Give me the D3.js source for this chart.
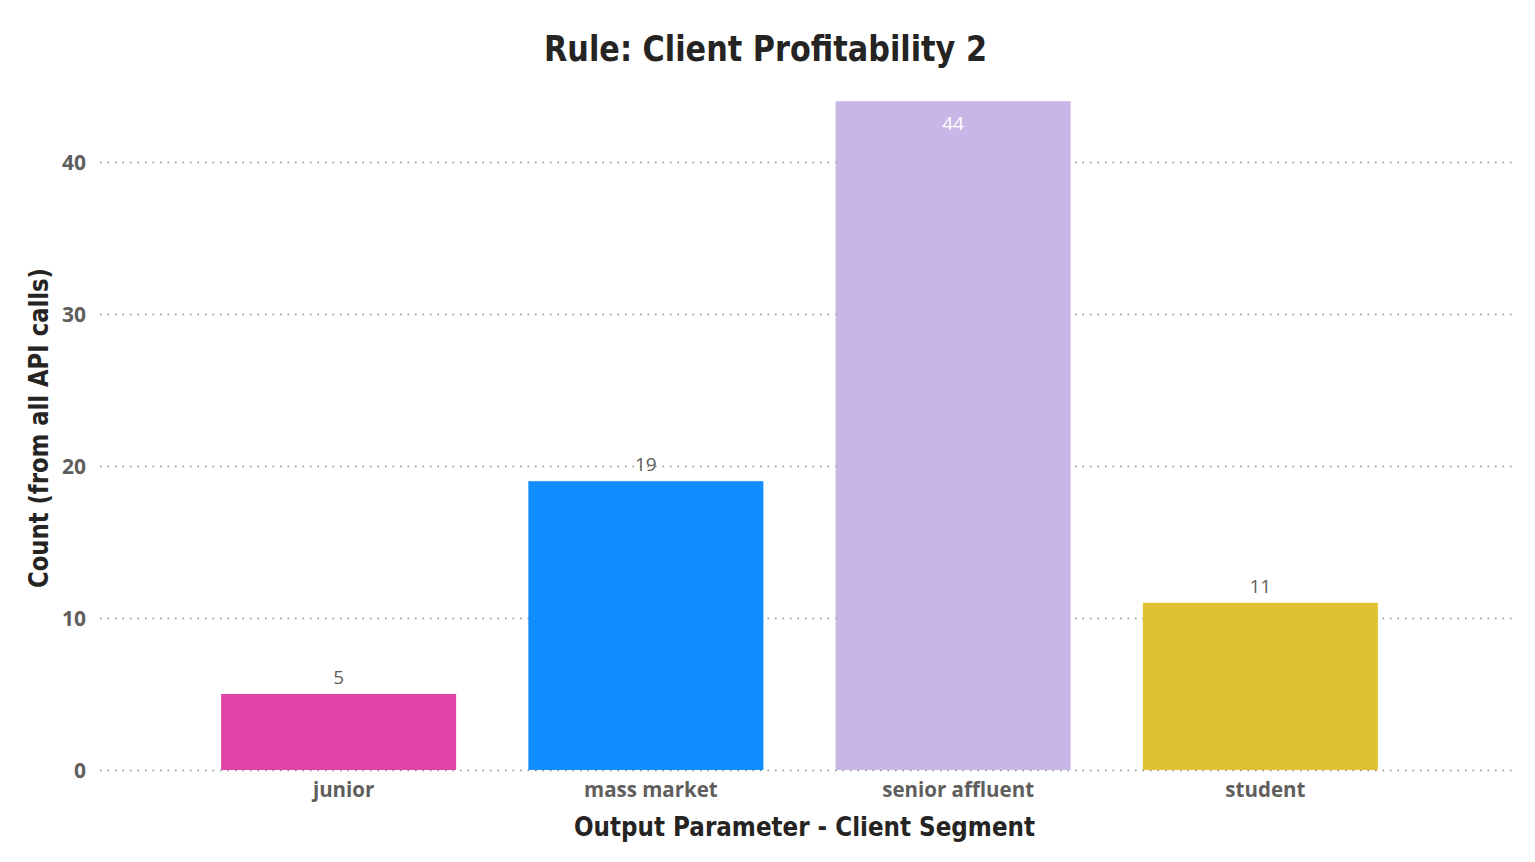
<!DOCTYPE html>
<html><head><meta charset="utf-8">
<script src="https://cdn.jsdelivr.net/npm/d3@7"></script>
<style>html,body{margin:0;padding:0;background:#fff;}</style>
</head><body>
<svg id="chart" width="1535" height="862"></svg>
<script>
const categories = ["junior", "mass market", "senior affluent", "student"];
const values = [5, 19, 44, 11];
const colors = ["#E044A7", "#118DFF", "#C8B6E6", "#E0C132"];
const yTicks = [0, 10, 20, 30, 40];
const title = "Rule: Client Profitability 2";
const xTitle = "Output Parameter - Client Segment";
const yTitle = "Count (from all API calls)";

const svg = d3.select("#chart");
const titleFont = "'DejaVu Sans', sans-serif";
const bodyFont = "'Open Sans', 'Noto Sans', sans-serif";

const y = d3.scaleLinear().domain([0, 40]).range([770, 162]);
const x = d3.scaleBand().domain(categories).range([185, 1414]).paddingInner(0.235).paddingOuter(0.1175);

// gridlines
const grid = svg.append("g").attr("transform", "translate(100,0)")
  .call(d3.axisLeft(y).tickValues(yTicks).tickSize(-1412).tickFormat(""));
grid.select(".domain").remove();
grid.selectAll("line").attr("stroke", "#8c8c8c").attr("stroke-width", 1.6).attr("stroke-dasharray", "1.6,5.9");

// y tick labels
const yAx = svg.append("g").attr("transform", "translate(86,0)")
  .call(d3.axisLeft(y).tickValues(yTicks).tickSize(0).tickPadding(0));
yAx.select(".domain").remove();
yAx.selectAll("text").attr("font-family", bodyFont).attr("font-weight", 700)
  .attr("font-size", 21).attr("fill", "#605E5C").attr("dy", "0.35em");

// bars
svg.append("g").selectAll("rect").data(categories).join("rect")
  .attr("x", d => x(d)).attr("width", x.bandwidth())
  .attr("y", (d, i) => y(values[i])).attr("height", (d, i) => y(0) - y(values[i]))
  .attr("fill", (d, i) => colors[i]);

// data labels
svg.append("g").selectAll("text").data(categories).join("text")
  .attr("x", d => x(d) + x.bandwidth() / 2)
  .attr("y", (d, i) => values[i] > 40 ? y(values[i]) + 29 : y(values[i]) - 10)
  .attr("text-anchor", "middle")
  .attr("font-family", bodyFont).attr("font-weight", 400).attr("font-size", 19)
  .attr("fill", (d, i) => values[i] > 40 ? "#ffffff" : "#605E5C")
  .text((d, i) => values[i]);

// x axis labels
const xAx = svg.append("g").attr("transform", "translate(5,782)")
  .call(d3.axisBottom(x).tickSize(0).tickPadding(0));
xAx.select(".domain").remove();
xAx.selectAll("text").attr("font-family", bodyFont).attr("font-weight", 700)
  .attr("font-size", 20.5).attr("fill", "#605E5C").attr("dy", "0.71em");

// titles
svg.append("text").attr("x", 765.5).attr("y", 61).attr("text-anchor", "middle")
  .attr("font-family", titleFont).attr("font-weight", 700).attr("font-size", 36)
  .attr("textLength", 443).attr("lengthAdjust", "spacingAndGlyphs")
  .attr("fill", "#252423").text(title);
svg.append("text").attr("x", 804.5).attr("y", 836).attr("text-anchor", "middle")
  .attr("font-family", titleFont).attr("font-weight", 700).attr("font-size", 27)
  .attr("textLength", 461).attr("lengthAdjust", "spacingAndGlyphs")
  .attr("fill", "#252423").text(xTitle);
svg.append("text").attr("transform", "translate(48,428) rotate(-90)").attr("text-anchor", "middle")
  .attr("font-family", titleFont).attr("font-weight", 700).attr("font-size", 27)
  .attr("textLength", 320).attr("lengthAdjust", "spacingAndGlyphs")
  .attr("fill", "#252423").text(yTitle);
</script>
</body></html>
